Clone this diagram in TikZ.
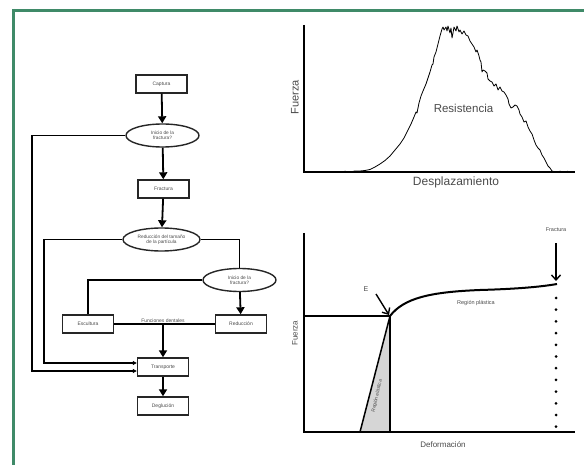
\documentclass[tikz,border=0pt]{standalone}
\usepackage{fontspec}
\setmainfont{Liberation Sans}
\usepackage{tikz}
\usetikzlibrary{shapes.geometric,arrows.meta}
\definecolor{framegreen}{HTML}{3F8A68}
\definecolor{txtgray}{HTML}{4A4A4A}
\definecolor{elasgray}{HTML}{D6D6D6}
\tikzset{box/.style={draw=black!85, line width=1.4pt, minimum width=51pt, minimum height=18pt, inner sep=1pt, font=\fontsize{5}{5.5}\selectfont, text=txtgray},
decision/.style={ellipse, draw=black!85, line width=1.4pt, minimum width=73pt, minimum height=23pt, inner sep=0pt, align=center, font=\fontsize{4.8}{5.3}\selectfont, text=txtgray},
flow/.style={-{Triangle[length=7pt,width=8pt]}, line width=1.8pt},
side/.style={-{Triangle[length=4pt,width=4pt]}, line width=1.2pt},
link/.style={line width=1.2pt},
% arrows of the lower chart
pointer/.style={-{Straight Barb[length=5pt,width=9pt]}, line width=1.4pt}}

\begin{document}
\begin{tikzpicture}[x=1pt, y=-1pt]
\useasboundingbox (0,0) rectangle (584,465);
%\draw[step=50,color=gray] (0,0) grid (584,465);
\draw[framegreen, line width=3pt] (12,10.5) -- (584,10.5);
\draw[framegreen, line width=3pt] (13.5,9) -- (13.5,465);

% flowchart
\node[box] (cap) at (161.5,84) {Captura};
\node[decision] (ini1) at (162.5,135.5) {Inicio de la\\fractura?};
\node[box] (fra) at (163.5,189) {Fractura};
\node[decision, minimum width=77pt] (red1) at (161.5,239.5) {Reducción del tamaño\\de la partícula};
\node[decision] (ini2) at (239.5,280) {Inicio de la\\fractura?};
\node[box] (esc) at (88,324) {Escultura};
\node[box] (red2) at (241,324) {Reducción};
\node[box] (tra) at (163,367) {Transporte};
\node[box] (deg) at (163,406) {Deglución};
\coordinate (l1) at (32,0);
\coordinate (l2) at (44,0);

\draw[flow] (cap) -- (ini1);
\draw[flow] (ini1) -- (fra);
\draw[flow] (fra) -- (red1);
\draw[link] (red1.east) -| (ini2.north);
\draw[flow] (ini2) -- (red2);
\draw[link] (ini2.west) -| (esc.north);
\draw[link] (esc.east) -- (red2.west);
\node[anchor=south, inner sep=1.5pt, font=\fontsize{5}{5.5}\selectfont, text=txtgray] (fd) at (esc.east -| tra.north) {Funciones dentales};
\draw[flow] (esc.east -| tra.north) -- (tra.north);
\draw[side] (ini1.west) -- (ini1.west -| l1) |- ([yshift=-4pt]tra.west);
\draw[side] (red1.west) -- (red1.west -| l2) |- ([yshift=4pt]tra.west);
\draw[flow] (tra) -- (deg);

% upper chart
\draw[line width=1.3pt] (304,25) -- (304,172) -- (575,172);
\node[rotate=90, font=\fontsize{11}{12}\selectfont, text=txtgray] (f1) at (295,97) {Fuerza};
\node[font=\fontsize{12}{13}\selectfont, text=txtgray] (d1) at (456,182.5) {Desplazamiento};
\node[font=\fontsize{11.5}{12}\selectfont, text=txtgray] (r1) at (463.5,108) {Resistencia};
\draw[line width=0.8pt, line join=round] plot coordinates {(340,172) (345,171.3) (350,172) (355,171) (360,171) (365,170.5) (370,169.5) (375,167) (380,164) (385,160.5) (390,156) (395,150) (400,144) (404,138) (408,130) (411,124) (414,117) (416,112) (417,113) (419,103) (421,96) (423,91) (426,84) (428,78) (430,72) (432,65) (433,64) (434,57) (436,52) (438,44) (440,36) (442,29) (443,27) (444,30) (446,27) (447,31) (448,26) (450,33) (451,28) (452,38) (453,33) (454,27) (456,31) (457,26) (459,32) (460,30) (462,34) (464,31) (466,35) (468,36) (470,41) (472,44) (474,47) (476,52) (477,50) (479,56) (480,60) (481,62) (482,72) (483,70) (485,71) (487,73) (488,79) (490,81) (492,82) (494,86) (496,84) (498,90) (500,87) (502,91) (504,92) (506,95) (508,99) (509,104) (511,108) (513,107) (515,105) (517,106) (519,110) (520,114) (522,117) (524,122) (526,121) (528,127) (530,131) (532,134) (534,140) (536,145) (538,148) (540,150) (542,155) (544,158) (546,162) (548,166) (550,168) (552,171) (555,172) (560,171.3) (565,172) (568,171.2)};

% lower chart
\fill[elasgray] (360,432) -- (390,316) -- (390,432) -- cycle;
\draw[line width=1.3pt] (304,233) -- (304,432) -- (575,432);
\draw[line width=1.1pt] (304,316) -- (390,316) -- (390,432);
\draw[line width=1.5pt] (360,432) -- (390,316);
\draw[line width=2pt] (390,316) .. controls (404,298) and (430,292) .. (480,290) .. controls (515,289) and (540,287) .. (557,284);
\node[rotate=90, font=\fontsize{8}{9}\selectfont, text=txtgray] (f2) at (295,333) {Fuerza};
\node[font=\fontsize{8}{9}\selectfont, text=txtgray] (d2) at (443,445) {Deformación};
\node[rotate=77, font=\fontsize{4.8}{5}\selectfont, text=txtgray] (re) at (377,396) {Región elástica};
\node[font=\fontsize{5.5}{6}\selectfont, text=txtgray] (rp) at (476,303) {Región plástica};
\node[font=\fontsize{5.5}{6}\selectfont, text=txtgray] (fr) at (556,230) {Fractura};
\node[font=\fontsize{7}{8}\selectfont, text=txtgray] (e) at (366,289) {E};
\coordinate (ep) at (389,315);
\coordinate (fp) at (556,281);
\draw[pointer] (376,294) -- (ep);
\draw[pointer] (fr.south) ++(0,8) -- (fp);
\foreach \i in {0,...,11} \fill (556,298+11.7*\i) circle (1.5pt);
\end{tikzpicture}
\end{document}
